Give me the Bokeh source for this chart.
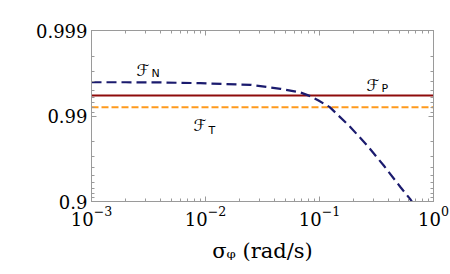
import numpy as np
from bokeh.plotting import figure
from bokeh.models import (Range1d, LogAxis, LogTicker, FixedTicker, CustomJSTickFormatter, Label)
from bokeh.embed import file_html
from bokeh.resources import INLINE

# ---- data ----
sigma_N = [0.001, 0.002, 0.004, 0.009, 0.0248, 0.0455, 0.0681, 0.0834, 0.098,
           0.123, 0.187, 0.262, 0.366, 0.514, 0.631, 0.66]
fid_N = [0.99597, 0.99597, 0.99595, 0.99587, 0.99568, 0.99519, 0.99469, 0.99413, 0.99341,
         0.99212, 0.98648, 0.97787, 0.96207, 0.9319, 0.9045, 0.895]
sigma_flat = [0.001, 1.0]
fid_P = [0.99425, 0.99425]
fid_T = [0.99212, 0.99212]
y_ticks = [0.9, 0.99, 0.999]
x_title = "σᵩ (rad/s)"

NAVY = "#1b1b6e"
RED = "#8e0b0b"
ORANGE = "#ff9a1c"
FRAME = "#9a9a9a"
SERIF = "DejaVu Serif"

p = figure(width=450, height=274, output_backend="svg", toolbar_location=None,
           x_axis_type="log", y_axis_type="log",
           x_range=Range1d(1e-3, 1.0), y_range=Range1d(0.1, 0.001),
           min_border_left=91, min_border_right=17, min_border_top=30, min_border_bottom=73)
p.xgrid.visible = False
p.ygrid.visible = False
p.outline_line_color = FRAME
p.background_fill_color = "white"
p.border_fill_color = "white"

inf = lambda f: (1.0 - np.asarray(f)).tolist()

p.line(sigma_flat, inf(fid_T), line_color=ORANGE, line_width=2, line_dash="7 3")
p.line(sigma_flat, inf(fid_P), line_color=RED, line_width=2)
p.line(sigma_N, inf(fid_N), line_color=NAVY, line_width=2.2, line_dash="10 5")

xt = LogTicker(num_minor_ticks=10)
ymaj = [1.0 - v for v in y_ticks]
ymin = [k * 10.0 ** e for e in (-3, -2) for k in range(2, 10)]
yt = FixedTicker(ticks=ymaj, minor_ticks=ymin)
yfmt = CustomJSTickFormatter(code="return (1 - tick).toFixed(Math.round(-Math.log10(tick)));")

def style(ax, labels=True):
    ax.axis_line_color = FRAME
    ax.major_tick_line_color = FRAME
    ax.minor_tick_line_color = FRAME
    ax.major_tick_in = 5
    ax.major_tick_out = 0
    ax.minor_tick_in = 3
    ax.minor_tick_out = 0
    if labels:
        ax.major_label_text_font = SERIF
        ax.major_label_text_font_size = "18px"
        ax.major_label_text_color = "black"
        ax.major_label_standoff = 4
    else:
        ax.major_label_text_font_size = "1px"
        ax.major_label_text_color = None
        ax.major_label_standoff = 0

p.xaxis.ticker = xt
p.yaxis.ticker = yt
p.yaxis.formatter = yfmt
style(p.xaxis[0])
style(p.yaxis[0])
p.xaxis.axis_label = x_title
p.xaxis.axis_label_text_font = SERIF
p.xaxis.axis_label_text_font_style = "normal"
p.xaxis.axis_label_text_font_size = "21px"
p.xaxis.axis_label_text_color = "black"
p.xaxis.axis_label_standoff = 10

top = LogAxis(ticker=xt)
right = LogAxis(ticker=yt)
style(top, False)
style(right, False)
p.add_layout(top, "above")
p.add_layout(right, "right")

def lab(text, sx, sy, size, font="DejaVu Sans", style_="normal"):
    p.add_layout(Label(x=sx, y=sy, x_units="screen", y_units="screen", text=text,
                       text_font=font, text_font_size=size, text_font_style=style_,
                       text_baseline="alphabetic", text_align="left", text_color="black"))

# curve labels
lab("ℱ", 45, 131, "16px")
lab("N", 60, 128, "11px")
lab("ℱ", 275, 116, "16px")
lab("P", 290, 113, "11px")
lab("ℱ", 102, 76, "16px")
lab("T", 117, 71, "11px")

open("out.html", "w").write(file_html(p, INLINE))
